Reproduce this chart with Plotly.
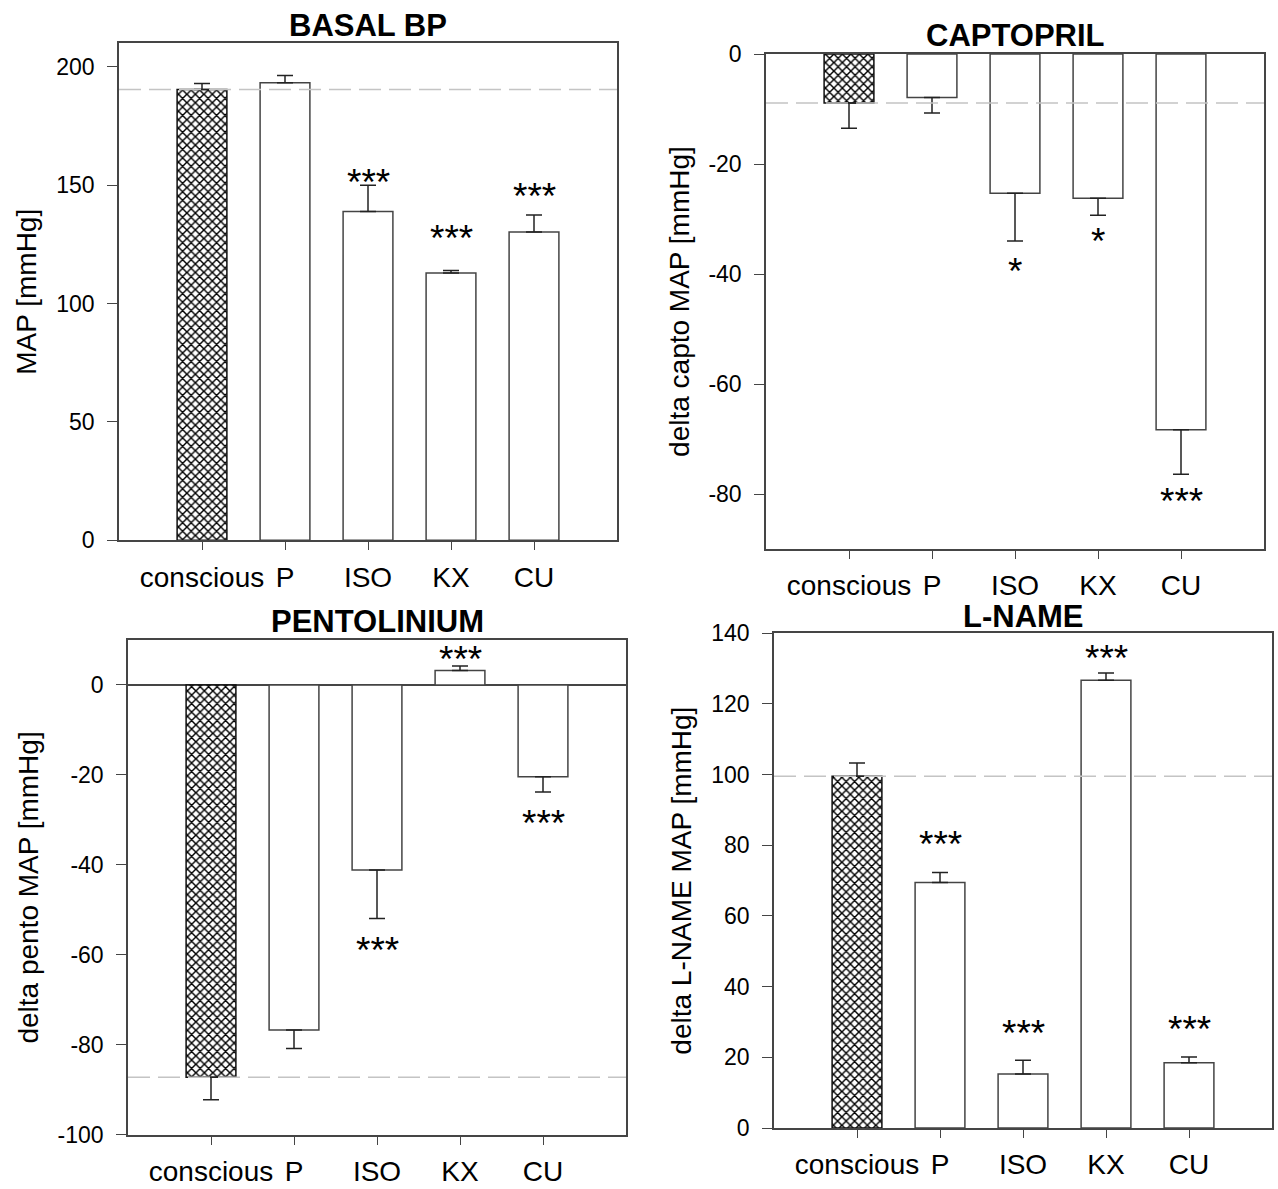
import plotly.graph_objects as go

categories = ["conscious", "P", "ISO", "KX", "CU"]

basal_mean = [190.5, 193.3, 138.9, 112.9, 130.3]
basal_sem = [2.5, 3.1, 11.1, 1.1, 7.1]
basal_sig = ["", "", "***", "***", "***"]
basal_sig_y = [None, None, 153.9, 130.0, 147.6]
basal_ticks = [0, 50, 100, 150, 200]
basal_ticktext = ["0", "50", "100", "150", "200"]

capto_mean = [-8.9, -7.9, -25.3, -26.2, -68.3]
capto_sem = [4.6, 2.8, 8.7, 3.1, 8.1]
capto_sig = ["", "", "*", "*", "***"]
capto_sig_y = [None, None, -38.5, -33.0, -80.3]
capto_ticks = [0, -20, -40, -60, -80]
capto_ticktext = ["0", "-20", "-40", "-60", "-80"]

pento_mean = [-87.2, -76.7, -41.1, 3.2, -20.4]
pento_sem = [5.0, 4.1, 10.8, 1.0, 3.4]
pento_sig = ["", "", "***", "***", "***"]
pento_sig_y = [None, None, -57.6, 6.9, -29.5]
pento_ticks = [0, -20, -40, -60, -80, -100]
pento_ticktext = ["0", "-20", "-40", "-60", "-80", "-100"]

lname_mean = [99.5, 69.5, 15.3, 126.7, 18.5]
lname_sem = [3.8, 2.8, 3.9, 2.0, 1.6]
lname_sig = ["", "***", "***", "***", "***"]
lname_sig_y = [None, 81.8, 28.4, 134.5, 29.6]
lname_ticks = [0, 20, 40, 60, 80, 100, 120, 140]
lname_ticktext = ["0", "20", "40", "60", "80", "100", "120", "140"]

panels = [
    dict(title="BASAL BP", ytitle="MAP [mmHg]", mean=basal_mean, sem=basal_sem,
         sig=basal_sig, sig_y=basal_sig_y, yrange=[0, 210],
         tickvals=basal_ticks, ticktext=basal_ticktext,
         xdom=[119, 617], ydom=[31, 539], zeroline=False, title_y=13),
    dict(title="CAPTOPRIL", ytitle="delta capto MAP [mmHg]", mean=capto_mean, sem=capto_sem,
         sig=capto_sig, sig_y=capto_sig_y, yrange=[-90, 0],
         tickvals=capto_ticks, ticktext=capto_ticktext,
         xdom=[766, 1264], ydom=[42, 548], zeroline=False, title_y=23),
    dict(title="PENTOLINIUM", ytitle="delta pento MAP [mmHg]", mean=pento_mean, sem=pento_sem,
         sig=pento_sig, sig_y=pento_sig_y, yrange=[-100, 10],
         tickvals=pento_ticks, ticktext=pento_ticktext,
         xdom=[128, 626], ydom=[641, 1147], zeroline=True, title_y=622),
    dict(title="L-NAME", ytitle="delta L-NAME MAP [mmHg]", mean=lname_mean, sem=lname_sem,
         sig=lname_sig, sig_y=lname_sig_y, yrange=[0, 140],
         tickvals=lname_ticks, ticktext=lname_ticktext,
         xdom=[774, 1272], ydom=[634, 1140], zeroline=False, title_y=617),
]

W, H = 1278, 1189
FONT = "Liberation Sans, Arial, sans-serif"
AXCOL = "#454545"

fig = go.Figure()
annotations = []
shapes = []
layout_axes = {}

for i, p in enumerate(panels, start=1):
    xa = "x" if i == 1 else f"x{i}"
    ya = "y" if i == 1 else f"y{i}"
    xkey = "xaxis" if i == 1 else f"xaxis{i}"
    ykey = "yaxis" if i == 1 else f"yaxis{i}"

    plus = [s if m >= 0 else 0 for m, s in zip(p["mean"], p["sem"])]
    minus = [s if m < 0 else 0 for m, s in zip(p["mean"], p["sem"])]
    fig.add_trace(go.Bar(
        x=categories, y=p["mean"], xaxis=xa, yaxis=ya, width=0.6,
        marker=dict(
            color="white",
            line=dict(color=["#111111", "#444444", "#444444", "#444444", "#444444"], width=1.5),
            pattern=dict(shape=["x", "", "", "", ""], fgcolor="black", bgcolor="white",
                         size=6, solidity=0.42, fillmode="replace"),
        ),
        error_y=dict(type="data", symmetric=False, array=plus, arrayminus=minus,
                     color="#222222", thickness=1.5, width=8),
        showlegend=False, hoverinfo="skip",
    ))

    x0, x1 = p["xdom"]
    yt, yb = p["ydom"]
    layout_axes[xkey] = dict(
        domain=[x0 / W, x1 / W], anchor=ya, type="category",
        categoryorder="array", categoryarray=categories, range=[-1, 5],
        showline=True, linecolor=AXCOL, linewidth=1.5, mirror=True,
        ticks="outside", ticklen=8, tickwidth=1.2, tickcolor=AXCOL,
        tickfont=dict(family=FONT, size=28, color="black"),
        ticklabelstandoff=3, showgrid=False, zeroline=False,
    )
    layout_axes[ykey] = dict(
        domain=[1 - yb / H, 1 - yt / H], anchor=xa, range=p["yrange"],
        tickmode="array", tickvals=p["tickvals"], ticktext=p["ticktext"],
        showline=True, linecolor=AXCOL, linewidth=1.5, mirror=True,
        ticks="outside", ticklen=10, tickwidth=1.2, tickcolor=AXCOL,
        tickfont=dict(family=FONT, size=23, color="black"),
        ticklabelstandoff=8, showgrid=False,
        zeroline=p["zeroline"], zerolinecolor=AXCOL, zerolinewidth=1.5,
        title=dict(text=p["ytitle"], font=dict(family=FONT, size=28, color="black"), standoff=11),
    )

    # reference dashed line at conscious level
    shapes.append(dict(type="line", xref=f"{xa} domain", yref=ya, x0=0, x1=1,
                       y0=p["mean"][0], y1=p["mean"][0], layer="above",
                       line=dict(color="#c4c4c4", width=1.5, dash="22px,8px")))

    # panel title
    annotations.append(dict(text=f"<b>{p['title']}</b>", xref="paper", yref="paper",
                            x=(x0 + x1) / 2 / W, y=1 - p["title_y"] / H,
                            xanchor="center", yanchor="middle", showarrow=False,
                            font=dict(family=FONT, size=31, color="black")))

    # significance stars
    for c, s, sy in zip(categories, p["sig"], p["sig_y"]):
        if s:
            annotations.append(dict(text=s, x=c, y=sy, xref=xa, yref=ya, showarrow=False,
                                    xanchor="center", yanchor="middle", yshift=-6,
                                    font=dict(family=FONT, size=37, color="black")))

fig.update_layout(
    width=W, height=H, margin=dict(l=0, r=0, t=0, b=0),
    paper_bgcolor="white", plot_bgcolor="white",
    annotations=annotations, shapes=shapes, bargap=0.4,
    **layout_axes,
)

fig.write_html("out.html")
